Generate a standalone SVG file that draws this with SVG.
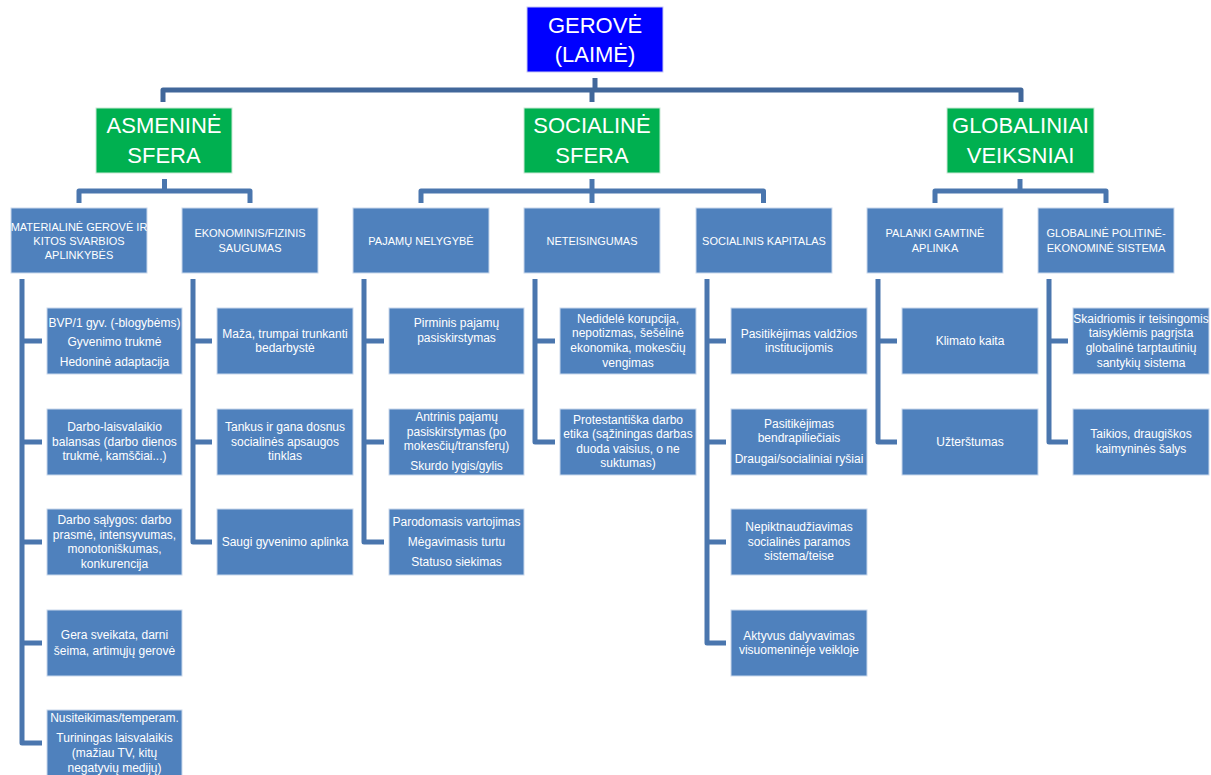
<svg xmlns="http://www.w3.org/2000/svg" width="1211" height="775" viewBox="0 0 1211 775">
<style>
.bg{fill:#ffffff}
.box{fill:#4F81BD;stroke:#C9D8EC;stroke-width:1}
.grn{fill:#00B050;stroke:#C9E8D4;stroke-width:1}
.top{fill:#0000FF;stroke:#C8C8F4;stroke-width:1}
.t{font-family:"Liberation Sans",Arial,sans-serif;font-size:12px;fill:#ffffff;text-anchor:middle}
.h{font-size:11px}
.g{font-size:22px}
.c{fill:none;stroke:#4A76AE;stroke-width:5;stroke-linejoin:round}
.c0{fill:none;stroke:#41679A;stroke-width:5;stroke-linejoin:round}
</style>
<rect class="bg" x="0" y="0" width="1211" height="775"/>
<g id="connectors">
<path class="c0" d="M595 78 V90"/>
<path class="c0" d="M163 102 V90 H1021 V102"/>
<path class="c0" d="M592 90 V102"/>
<path class="c" d="M164.5 179 V191"/>
<path class="c" d="M79 203 V191 H250 V203"/>
<path class="c" d="M592 179 V203"/>
<path class="c" d="M421 203 V191 H763.5 V203"/>
<path class="c" d="M1020 179 V191"/>
<path class="c" d="M935 203 V191 H1106 V203"/>
<path class="c" d="M22 279 V743 H42 M22 341 H42 M22 442 H42 M22 542 H42 M22 643 H42"/>
<path class="c" d="M193 279 V542 H212 M193 341 H212 M193 442 H212"/>
<path class="c" d="M364 279 V542 H384 M364 341 H384 M364 442 H384"/>
<path class="c" d="M535 279 V442 H555 M535 341 H555"/>
<path class="c" d="M707 279 V643 H726 M707 341 H726 M707 442 H726 M707 542 H726"/>
<path class="c" d="M878 279 V442 H897 M878 341 H897"/>
<path class="c" d="M1049 279 V442 H1068 M1049 341 H1068"/>
</g>
<g id="gerove"><rect class="top" x="527" y="7" width="136" height="65"/><text class="t g" x="595" y="33">GEROVĖ</text><text class="t g" x="595" y="62">(LAIMĖ)</text></g>
<g id="asmenine"><rect class="grn" x="96" y="108" width="136" height="65"/><text class="t g" x="164" y="133">ASMENINĖ</text><text class="t g" x="164" y="163">SFERA</text></g>
<g id="sociline"><rect class="grn" x="524" y="108" width="136" height="65"/><text class="t g" x="592" y="133">SOCIALINĖ</text><text class="t g" x="592" y="163">SFERA</text></g>
<g id="globaliniai"><rect class="grn" x="947" y="108" width="147" height="65"/><text class="t g" x="1020.5" y="133">GLOBALINIAI</text><text class="t g" x="1020.5" y="163">VEIKSNIAI</text></g>

<g id="materialine"><rect class="box" x="11" y="208" width="136" height="65"/><text class="t h" x="79" y="231">MATERIALINĖ GEROVĖ IR</text><text class="t h" x="79" y="245">KITOS SVARBIOS</text><text class="t h" x="79" y="259">APLINKYBĖS</text></g>
<g id="ekonominis"><rect class="box" x="182" y="208" width="136" height="65"/><text class="t h" x="250" y="237">EKONOMINIS/FIZINIS</text><text class="t h" x="250" y="252">SAUGUMAS</text></g>
<g id="pajamu"><rect class="box" x="353" y="208" width="136" height="65"/><text class="t h" x="421" y="245">PAJAMŲ NELYGYBĖ</text></g>
<g id="neteisingumas"><rect class="box" x="524" y="208" width="136" height="65"/><text class="t h" x="592" y="245">NETEISINGUMAS</text></g>
<g id="kapitalas"><rect class="box" x="696" y="208" width="136" height="65"/><text class="t h" x="764" y="245">SOCIALINIS KAPITALAS</text></g>
<g id="palanki"><rect class="box" x="867" y="208" width="136" height="65"/><text class="t h" x="935" y="237">PALANKI GAMTINĖ</text><text class="t h" x="935" y="252">APLINKA</text></g>
<g id="globaline"><rect class="box" x="1038" y="208" width="136" height="65"/><text class="t h" x="1106" y="237">GLOBALINĖ POLITINĖ-</text><text class="t h" x="1106" y="252">EKONOMINĖ SISTEMA</text></g>

<g id="c1r1"><rect class="box" x="47" y="308" width="135" height="66"/><text class="t" x="114.5" y="327">BVP/1 gyv. (-blogybėms)</text><text class="t" x="114.5" y="346">Gyvenimo trukmė</text><text class="t" x="114.5" y="366">Hedoninė adaptacija</text></g>
<g id="c1r2"><rect class="box" x="47" y="409" width="135" height="66"/><text class="t" x="114.5" y="431">Darbo-laisvalaikio</text><text class="t" x="114.5" y="446">balansas (darbo dienos</text><text class="t" x="114.5" y="460">trukmė, kamščiai...)</text></g>
<g id="c1r3"><rect class="box" x="47" y="509" width="135" height="66"/><text class="t" x="114.5" y="524">Darbo sąlygos: darbo</text><text class="t" x="114.5" y="539">prasmė, intensyvumas,</text><text class="t" x="114.5" y="553">monotoniškumas,</text><text class="t" x="114.5" y="568">konkurencija</text></g>
<g id="c1r4"><rect class="box" x="47" y="610" width="135" height="66"/><text class="t" x="114.5" y="639">Gera sveikata, darni</text><text class="t" x="114.5" y="655">šeima, artimųjų gerovė</text></g>
<g id="c1r5"><rect class="box" x="47" y="710" width="135" height="66"/><text class="t" x="114.5" y="722">Nusiteikimas/temperam.</text><text class="t" x="114.5" y="742">Turiningas laisvalaikis</text><text class="t" x="114.5" y="757">(mažiau TV, kitų</text><text class="t" x="114.5" y="772">negatyvių medijų)</text></g>

<g id="c2r1"><rect class="box" x="217" y="308" width="136" height="66"/><text class="t" x="285" y="338">Maža, trumpai trunkanti</text><text class="t" x="285" y="352">bedarbystė</text></g>
<g id="c2r2"><rect class="box" x="217" y="409" width="136" height="66"/><text class="t" x="285" y="431">Tankus ir gana dosnus</text><text class="t" x="285" y="446">socialinės apsaugos</text><text class="t" x="285" y="460">tinklas</text></g>
<g id="c2r3"><rect class="box" x="217" y="509" width="136" height="66"/><text class="t" x="285" y="546">Saugi gyvenimo aplinka</text></g>

<g id="c3r1"><rect class="box" x="389" y="308" width="135" height="66"/><text class="t" x="456.5" y="327">Pirminis pajamų</text><text class="t" x="456.5" y="342">pasiskirstymas</text></g>
<g id="c3r2"><rect class="box" x="389" y="409" width="135" height="66"/><text class="t" x="456.5" y="421">Antrinis pajamų</text><text class="t" x="456.5" y="436">pasiskirstymas (po</text><text class="t" x="456.5" y="450">mokesčių/transferų)</text><text class="t" x="456.5" y="470">Skurdo lygis/gylis</text></g>
<g id="c3r3"><rect class="box" x="389" y="509" width="135" height="66"/><text class="t" x="456.5" y="526">Parodomasis vartojimas</text><text class="t" x="456.5" y="546">Mėgavimasis turtu</text><text class="t" x="456.5" y="566">Statuso siekimas</text></g>

<g id="c4r1"><rect class="box" x="560" y="308" width="136" height="66"/><text class="t" x="628" y="323">Nedidelė korupcija,</text><text class="t" x="628" y="337">nepotizmas, šešėlinė</text><text class="t" x="628" y="352">ekonomika, mokesčių</text><text class="t" x="628" y="367">vengimas</text></g>
<g id="c4r2"><rect class="box" x="560" y="409" width="136" height="66"/><text class="t" x="628" y="424">Protestantiška darbo</text><text class="t" x="628" y="438">etika (sąžiningas darbas</text><text class="t" x="628" y="453">duoda vaisius, o ne</text><text class="t" x="628" y="467">suktumas)</text></g>

<g id="c5r1"><rect class="box" x="731" y="308" width="136" height="66"/><text class="t" x="799" y="338">Pasitikėjimas valdžios</text><text class="t" x="799" y="352">institucijomis</text></g>
<g id="c5r2"><rect class="box" x="731" y="409" width="136" height="66"/><text class="t" x="799" y="428">Pasitikėjimas</text><text class="t" x="799" y="442">bendrapiliečiais</text><text class="t" x="799" y="463">Draugai/socialiniai ryšiai</text></g>
<g id="c5r3"><rect class="box" x="731" y="509" width="136" height="66"/><text class="t" x="799" y="531">Nepiktnaudžiavimas</text><text class="t" x="799" y="546">socialinės paramos</text><text class="t" x="799" y="560">sistema/teise</text></g>
<g id="c5r4"><rect class="box" x="731" y="610" width="136" height="66"/><text class="t" x="799" y="640">Aktyvus dalyvavimas</text><text class="t" x="799" y="654">visuomeninėje veikloje</text></g>

<g id="c6r1"><rect class="box" x="902" y="308" width="136" height="66"/><text class="t" x="970" y="345">Klimato kaita</text></g>
<g id="c6r2"><rect class="box" x="902" y="409" width="136" height="66"/><text class="t" x="970" y="446">Užterštumas</text></g>

<g id="c7r1"><rect class="box" x="1073" y="308" width="136" height="66"/><text class="t" x="1141" y="323">Skaidriomis ir teisingomis</text><text class="t" x="1141" y="337">taisyklėmis pagrįsta</text><text class="t" x="1141" y="352">globalinė tarptautinių</text><text class="t" x="1141" y="367">santykių sistema</text></g>
<g id="c7r2"><rect class="box" x="1073" y="409" width="136" height="66"/><text class="t" x="1141" y="438">Taikios, draugiškos</text><text class="t" x="1141" y="453">kaimyninės šalys</text></g>
</svg>
